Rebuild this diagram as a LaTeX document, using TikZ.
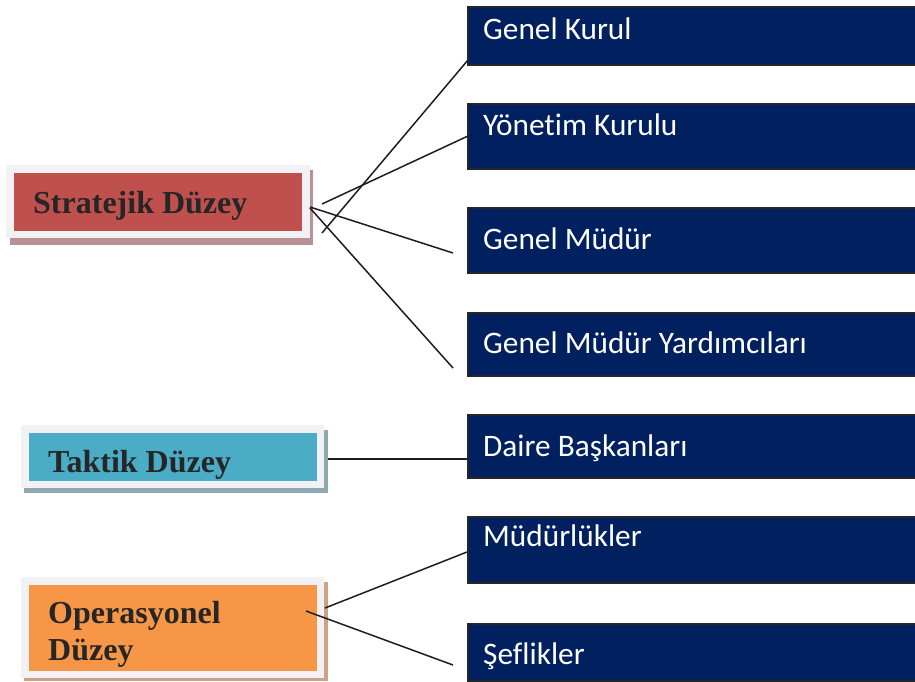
\documentclass[tikz,border=0pt]{standalone}
\usepackage{fontspec}
\setmainfont{Liberation Serif}
\newfontfamily\calibfont[RawFeature={-liga;-clig;-calt;-dlig}]{Carlito}
\definecolor{navy}{HTML}{002060}
\definecolor{navyedge}{HTML}{262626}
\definecolor{framegray}{HTML}{F2F2F4}
\definecolor{redbox}{HTML}{C0504D}
\definecolor{redshadow}{HTML}{B89292}
\definecolor{tealbox}{HTML}{4BACC6}
\definecolor{tealshadow}{HTML}{8EA9B3}
\definecolor{orangebox}{HTML}{F79646}
\definecolor{orangeshadow}{HTML}{CAA386}
\definecolor{darktext}{HTML}{262626}
\definecolor{linecol}{HTML}{1E1E1E}
\begin{document}
\begin{tikzpicture}[x=1pt,y=-1pt,
  rbox/.style={draw=navyedge,line width=2pt,fill=navy,anchor=north west,minimum width=451pt,inner sep=0pt},
  rtext/.style={anchor=base west,inner sep=0pt,text=white,font=\calibfont\fontsize{31.3}{36}\selectfont},
  lbox/.style={anchor=north west,inner sep=0pt,draw=none},
  ltext/.style={anchor=base west,inner sep=0pt,text=darktext,font=\fontsize{32}{37}\selectfont\bfseries},
  conn/.style={draw=linecol,line width=1.5pt}]
\useasboundingbox (0,0) rectangle (915,681);
\clip (0,0) rectangle (915,681);
\fill[white] (0,0) rectangle (915,681);

% right boxes
\node[rbox,minimum height=58pt] (b1) at (467,6) {};
\node[rbox,minimum height=65pt] (b2) at (467,103) {};
\node[rbox,minimum height=65pt] (b3) at (467,207) {};
\node[rbox,minimum height=63pt] (b4) at (467,312) {};
\node[rbox,minimum height=63pt] (b5) at (467,414) {};
\node[rbox,minimum height=66pt] (b6) at (467,516) {};
\node[rbox,minimum height=57pt] (b7) at (467,623) {};
\node[rtext] (t1) at (483,39) {Genel Kurul};
\node[rtext] (t2) at (483,135) {Yönet\kern0pt im Kurulu};
\node[rtext] (t3) at (483,249) {Genel Müdür};
\node[rtext] (t4) at (483,353) {Genel Müdür Yardımcıları};
\node[rtext] (t5) at (483,456) {Daire Başkanları};
\node[rtext] (t6) at (483,546) {Müdürlükler};
\node[rtext] (t7) at (483,664) {Şef\kern0pt likler};

% left boxes
\fill[redshadow] (10,170) rectangle (313,245);
\fill[framegray] (6,165) rectangle (310,238);
\node[lbox,fill=redbox,minimum width=288pt,minimum height=58pt] (sbox) at (14,173) {};
\node[ltext] (stext) at (33,213) {Stratejik Düzey};

\fill[tealshadow] (24,430) rectangle (328,493);
\fill[framegray] (21,425) rectangle (324,488);
\node[lbox,fill=tealbox,minimum width=288pt,minimum height=48pt] (tbox) at (29,433) {};
\node[ltext] (ttext) at (48,472) {Taktik Düzey};

\fill[orangeshadow] (24,582) rectangle (328,681);
\fill[framegray] (21,577) rectangle (324,678);
\node[lbox,fill=orangebox,minimum width=288pt,minimum height=86pt] (obox) at (29,585) {};
\node[ltext] (otext1) at (48,623) {Operasyonel};
\node[ltext] (otext2) at (48,660) {Düzey};

% connector end points
\coordinate (s1) at (322,233);
\coordinate (s2) at (322,204);
\coordinate (s3) at (310,207);
\coordinate (s4) at (310,208);
\coordinate (e1) at (468,60);
\coordinate (e2) at (468,136);
\coordinate (e3) at (453,253);
\coordinate (e4) at (453,368);
\coordinate (ts) at (328,459);
\coordinate (te) at (467,459);
\coordinate (o1) at (325,608);
\coordinate (o1e) at (467,552);
\coordinate (o2) at (306,611);
\coordinate (o2e) at (453,665);

\draw[conn] (s1) -- (e1);
\draw[conn] (s2) -- (e2);
\draw[conn] (s3) -- (e3);
\draw[conn] (s4) -- (e4);
\draw[conn] (ts) -- (te);
\draw[conn] (o1) -- (o1e);
\draw[conn] (o2) -- (o2e);
\end{tikzpicture}
\end{document}
